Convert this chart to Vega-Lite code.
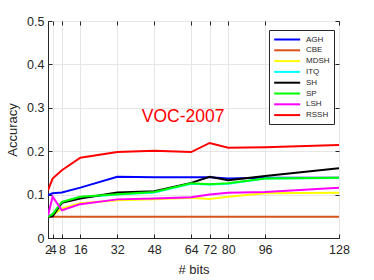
{
  "$schema": "https://vega.github.io/schema/vega-lite/v6.json",
  "width": 291,
  "height": 217,
  "autosize": {"type": "none"},
  "padding": {"left": 48, "top": 21, "right": 35, "bottom": 42},
  "background": "white",
  "config": {
    "font": "Liberation Sans",
    "view": {"stroke": "#262626", "strokeWidth": 1},
    "axis": {"labelFont": "Liberation Sans", "titleFont": "Liberation Sans", "labelColor": "#262626", "titleColor": "#262626", "titleFontWeight": "normal", "domainColor": "#262626", "tickColor": "#262626", "gridColor": "#e6e6e6", "gridOpacity": 1}
  },
  "resolve": {"axis": {"x": "independent", "y": "independent"}},
  "datasets": {
    "lines": [
      {"bits": 2, "method": "AGH", "acc": 0.099}, {"bits": 4, "method": "AGH", "acc": 0.103}, {"bits": 8, "method": "AGH", "acc": 0.105}, {"bits": 16, "method": "AGH", "acc": 0.116}, {"bits": 32, "method": "AGH", "acc": 0.141}, {"bits": 48, "method": "AGH", "acc": 0.140}, {"bits": 64, "method": "AGH", "acc": 0.140}, {"bits": 72, "method": "AGH", "acc": 0.140}, {"bits": 80, "method": "AGH", "acc": 0.137}, {"bits": 96, "method": "AGH", "acc": 0.139}, {"bits": 128, "method": "AGH", "acc": 0.139},
      {"bits": 2, "method": "CBE", "acc": 0.049}, {"bits": 4, "method": "CBE", "acc": 0.049}, {"bits": 8, "method": "CBE", "acc": 0.049}, {"bits": 16, "method": "CBE", "acc": 0.049}, {"bits": 32, "method": "CBE", "acc": 0.049}, {"bits": 48, "method": "CBE", "acc": 0.049}, {"bits": 64, "method": "CBE", "acc": 0.049}, {"bits": 72, "method": "CBE", "acc": 0.049}, {"bits": 80, "method": "CBE", "acc": 0.049}, {"bits": 96, "method": "CBE", "acc": 0.049}, {"bits": 128, "method": "CBE", "acc": 0.049},
      {"bits": 2, "method": "MDSH", "acc": 0.049}, {"bits": 4, "method": "MDSH", "acc": 0.053}, {"bits": 8, "method": "MDSH", "acc": 0.068}, {"bits": 16, "method": "MDSH", "acc": 0.080}, {"bits": 32, "method": "MDSH", "acc": 0.087}, {"bits": 48, "method": "MDSH", "acc": 0.089}, {"bits": 64, "method": "MDSH", "acc": 0.093}, {"bits": 72, "method": "MDSH", "acc": 0.090}, {"bits": 80, "method": "MDSH", "acc": 0.095}, {"bits": 96, "method": "MDSH", "acc": 0.103}, {"bits": 128, "method": "MDSH", "acc": 0.104},
      {"bits": 2, "method": "ITQ", "acc": 0.049}, {"bits": 4, "method": "ITQ", "acc": 0.055}, {"bits": 8, "method": "ITQ", "acc": 0.082}, {"bits": 16, "method": "ITQ", "acc": 0.094}, {"bits": 32, "method": "ITQ", "acc": 0.100}, {"bits": 48, "method": "ITQ", "acc": 0.105}, {"bits": 64, "method": "ITQ", "acc": 0.125}, {"bits": 72, "method": "ITQ", "acc": 0.123}, {"bits": 80, "method": "ITQ", "acc": 0.125}, {"bits": 96, "method": "ITQ", "acc": 0.137}, {"bits": 128, "method": "ITQ", "acc": 0.138},
      {"bits": 2, "method": "SH", "acc": 0.049}, {"bits": 4, "method": "SH", "acc": 0.050}, {"bits": 8, "method": "SH", "acc": 0.081}, {"bits": 16, "method": "SH", "acc": 0.091}, {"bits": 32, "method": "SH", "acc": 0.105}, {"bits": 48, "method": "SH", "acc": 0.108}, {"bits": 64, "method": "SH", "acc": 0.127}, {"bits": 72, "method": "SH", "acc": 0.141}, {"bits": 80, "method": "SH", "acc": 0.133}, {"bits": 96, "method": "SH", "acc": 0.143}, {"bits": 128, "method": "SH", "acc": 0.161},
      {"bits": 2, "method": "SP", "acc": 0.049}, {"bits": 4, "method": "SP", "acc": 0.055}, {"bits": 8, "method": "SP", "acc": 0.083}, {"bits": 16, "method": "SP", "acc": 0.095}, {"bits": 32, "method": "SP", "acc": 0.101}, {"bits": 48, "method": "SP", "acc": 0.106}, {"bits": 64, "method": "SP", "acc": 0.126}, {"bits": 72, "method": "SP", "acc": 0.124}, {"bits": 80, "method": "SP", "acc": 0.126}, {"bits": 96, "method": "SP", "acc": 0.137}, {"bits": 128, "method": "SP", "acc": 0.139},
      {"bits": 2, "method": "LSH", "acc": 0.052}, {"bits": 4, "method": "LSH", "acc": 0.095}, {"bits": 8, "method": "LSH", "acc": 0.064}, {"bits": 16, "method": "LSH", "acc": 0.078}, {"bits": 32, "method": "LSH", "acc": 0.089}, {"bits": 48, "method": "LSH", "acc": 0.091}, {"bits": 64, "method": "LSH", "acc": 0.094}, {"bits": 72, "method": "LSH", "acc": 0.100}, {"bits": 80, "method": "LSH", "acc": 0.104}, {"bits": 96, "method": "LSH", "acc": 0.106}, {"bits": 128, "method": "LSH", "acc": 0.116},
      {"bits": 2, "method": "RSSH", "acc": 0.110}, {"bits": 4, "method": "RSSH", "acc": 0.137}, {"bits": 8, "method": "RSSH", "acc": 0.156}, {"bits": 16, "method": "RSSH", "acc": 0.185}, {"bits": 32, "method": "RSSH", "acc": 0.198}, {"bits": 48, "method": "RSSH", "acc": 0.201}, {"bits": 64, "method": "RSSH", "acc": 0.198}, {"bits": 72, "method": "RSSH", "acc": 0.219}, {"bits": 80, "method": "RSSH", "acc": 0.208}, {"bits": 96, "method": "RSSH", "acc": 0.209}, {"bits": 128, "method": "RSSH", "acc": 0.214}
    ],
    "note": [{"bits": 60.5, "acc": 0.278, "label": "VOC-2007"}]
  },
  "layer": [
    {
      "data": {"name": "lines"},
      "mark": {"type": "line", "strokeWidth": 2, "clip": true},
      "encoding": {
        "x": {"field": "bits", "type": "quantitative", "scale": {"domain": [2, 128], "nice": false, "zero": false},
              "axis": {"values": [2, 4, 8, 16, 32, 48, 64, 72, 80, 96, 128], "title": "# bits", "titleFontSize": 13, "labelFontSize": 12.5, "tickSize": -4, "labelPadding": 9, "titlePadding": 8, "grid": true, "labelOverlap": false, "labelFlush": false, "labelBound": false}},
        "y": {"field": "acc", "type": "quantitative", "scale": {"domain": [0, 0.5], "nice": false},
              "axis": {"values": [0, 0.1, 0.2, 0.3, 0.4, 0.5], "title": "Accuracy", "titleFontSize": 13, "labelFontSize": 12.5, "tickSize": -4, "labelPadding": 8, "titlePadding": 7, "grid": true, "format": "~g", "labelOverlap": false}},
        "color": {"field": "method", "type": "nominal",
                  "scale": {"domain": ["AGH", "CBE", "MDSH", "ITQ", "SH", "SP", "LSH", "RSSH"], "range": ["#0000ff", "#d95319", "#ffff00", "#00ffff", "#000000", "#00ff00", "#ff00ff", "#ff0000"]},
                  "legend": {"orient": "none", "legendX": 221, "legendY": 9, "title": null, "symbolType": "M-1,0H5", "symbolSize": 75, "symbolStrokeWidth": 2, "labelFontSize": 8, "labelFont": "Liberation Sans", "labelColor": "#262626", "rowPadding": 0.8, "padding": 4, "strokeColor": "#262626", "fillColor": "white", "labelOffset": 22}},
        "order": {"field": "bits", "type": "quantitative"}
      }
    },
    {
      "data": {"name": "note"},
      "mark": {"type": "text", "color": "#ff0000", "fontSize": 17.5, "font": "Liberation Sans"},
      "encoding": {
        "x": {"field": "bits", "type": "quantitative",
              "axis": {"orient": "top", "values": [2, 4, 8, 16, 32, 48, 64, 72, 80, 96, 128], "labels": false, "title": null, "domain": false, "grid": false, "tickSize": -4}},
        "y": {"field": "acc", "type": "quantitative",
              "axis": {"orient": "right", "values": [0, 0.1, 0.2, 0.3, 0.4, 0.5], "labels": false, "title": null, "domain": false, "grid": false, "tickSize": -4}},
        "text": {"field": "label"}
      }
    }
  ]
}
